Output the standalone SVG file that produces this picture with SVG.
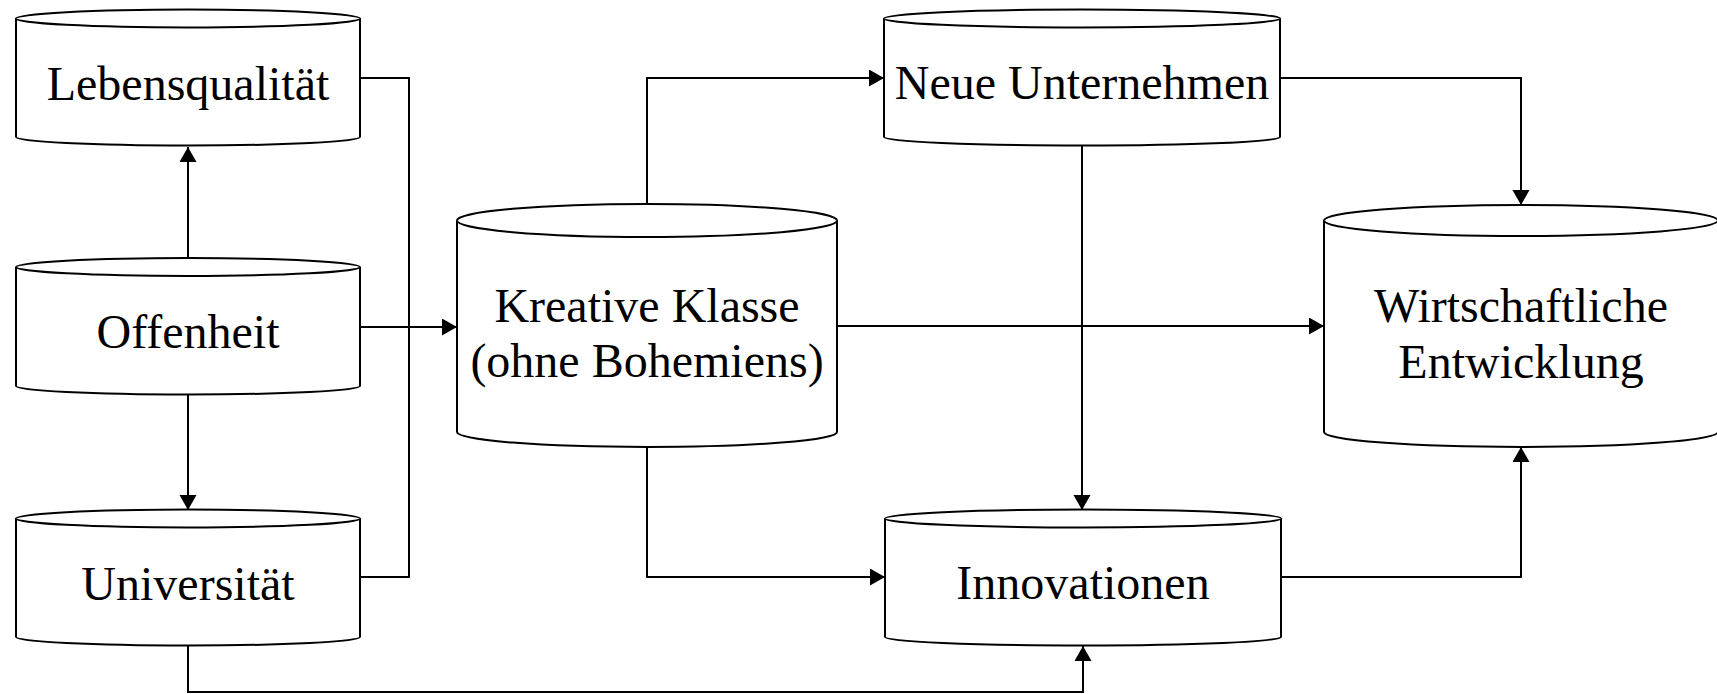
<svg xmlns="http://www.w3.org/2000/svg" width="1717" height="694" viewBox="0 0 1717 694">
<style>
.cyl{fill:#fff;stroke:#000;stroke-width:2}
.lbl{font-family:"Liberation Serif","Times New Roman",serif;font-size:48px;fill:#000;text-anchor:middle}
.con{fill:none;stroke:#000;stroke-width:2}
</style>
<defs>
<marker id="ah" markerUnits="userSpaceOnUse" markerWidth="16" markerHeight="18" refX="15" refY="8.5" orient="auto">
<path d="M0,0 L15,8.5 L0,17 Z" fill="#000"/>
</marker>
</defs>
<rect width="1717" height="694" fill="#fff"/>
<g id="connectors">
<path class="con" d="M188,258 V147" marker-end="url(#ah)"/>
<path class="con" d="M188,394 V510" marker-end="url(#ah)"/>
<path class="con" d="M360,78 H409 V577 H360"/>
<path class="con" d="M360,327 H457" marker-end="url(#ah)"/>
<path class="con" d="M188,645 V692 H1083 V646" marker-end="url(#ah)"/>
<path class="con" d="M647,204 V78 H884" marker-end="url(#ah)"/>
<path class="con" d="M647,447 V577 H885" marker-end="url(#ah)"/>
<path class="con" d="M837,326 H1324" marker-end="url(#ah)"/>
<path class="con" d="M1082,146 V510" marker-end="url(#ah)"/>
<path class="con" d="M1280,78 H1521 V205" marker-end="url(#ah)"/>
<path class="con" d="M1282,577 H1521 V447" marker-end="url(#ah)"/>
</g>
<g id="lebensqualitaet">
<path class="cyl" d="M16,18.5 V137 A172,8.5 0 0 0 360,137 V18.5 A172,9 0 0 0 16,18.5 Z"/>
<path class="cyl" fill="none" d="M16,18.5 A172,9 0 0 0 360,18.5"/>
<text class="lbl" x="188" y="100">Lebensqualität</text>
</g>
<g id="offenheit">
<path class="cyl" d="M16,267 V386 A172,8.5 0 0 0 360,386 V267 A172,9 0 0 0 16,267 Z"/>
<path class="cyl" fill="none" d="M16,267 A172,9 0 0 0 360,267"/>
<text class="lbl" x="188" y="348">Offenheit</text>
</g>
<g id="universitaet">
<path class="cyl" d="M16,518.5 V637 A172,8.5 0 0 0 360,637 V518.5 A172,9 0 0 0 16,518.5 Z"/>
<path class="cyl" fill="none" d="M16,518.5 A172,9 0 0 0 360,518.5"/>
<text class="lbl" x="188" y="600">Universität</text>
</g>
<g id="kreative">
<path class="cyl" d="M457,220.5 V432 A190,15 0 0 0 837,432 V220.5 A190,16.5 0 0 0 457,220.5 Z"/>
<path class="cyl" fill="none" d="M457,220.5 A190,16.5 0 0 0 837,220.5"/>
<text class="lbl" x="647" y="322">Kreative Klasse</text>
<text class="lbl" x="647" y="377">(ohne Bohemiens)</text>
</g>
<g id="neue_unternehmen">
<path class="cyl" d="M884,18.5 V137 A198,8.5 0 0 0 1280,137 V18.5 A198,9 0 0 0 884,18.5 Z"/>
<path class="cyl" fill="none" d="M884,18.5 A198,9 0 0 0 1280,18.5"/>
<text class="lbl" x="1082" y="99">Neue Unternehmen</text>
</g>
<g id="innovationen">
<path class="cyl" d="M885,518.5 V637 A198,8.5 0 0 0 1281,637 V518.5 A198,9 0 0 0 885,518.5 Z"/>
<path class="cyl" fill="none" d="M885,518.5 A198,9 0 0 0 1281,518.5"/>
<text class="lbl" x="1083" y="599">Innovationen</text>
</g>
<g id="wirtschaftliche">
<path class="cyl" d="M1324,220.5 V432 A197,15 0 0 0 1718,432 V220.5 A197,15.5 0 0 0 1324,220.5 Z"/>
<path class="cyl" fill="none" d="M1324,220.5 A197,15.5 0 0 0 1718,220.5"/>
<text class="lbl" x="1521" y="322">Wirtschaftliche</text>
<text class="lbl" x="1521" y="378">Entwicklung</text>
</g>
</svg>
